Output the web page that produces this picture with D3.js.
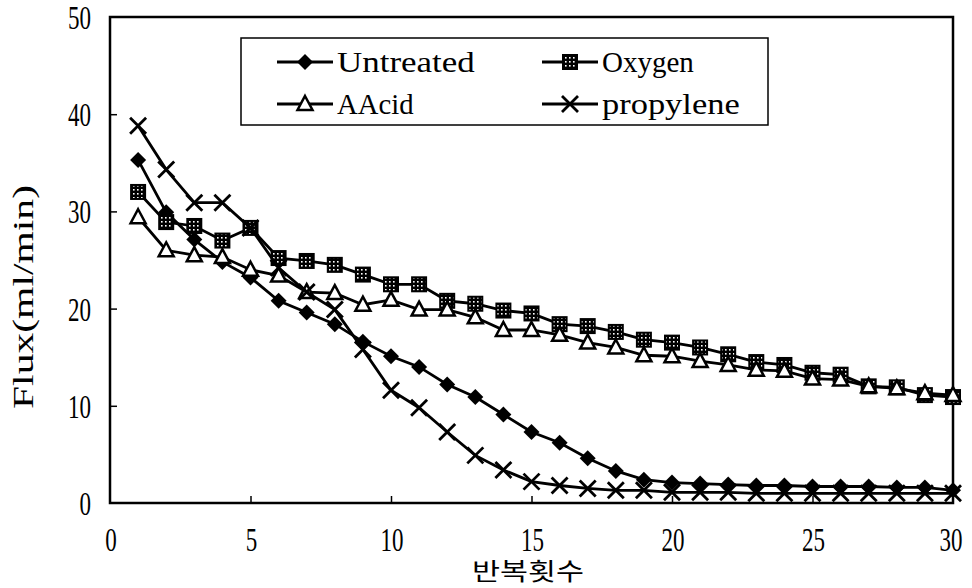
<!DOCTYPE html>
<html>
<head>
<meta charset="utf-8">
<script src="https://cdn.jsdelivr.net/npm/d3@7"></script>
<style>
  body { margin: 0; background: #fff; }
  svg { display: block; }
</style>
</head>
<body>
<div id="chart"></div>
<script>
// cycle numbers (반복횟수)
const cycles = [1, 2, 3, 4, 5, 6, 7, 8, 9, 10, 11, 12, 13, 14, 15,
                16, 17, 18, 19, 20, 21, 22, 23, 24, 25, 26, 27, 28, 29, 30];

const untreated = [35.3, 29.9, 27.1, 24.8, 23.2, 20.8, 19.6, 18.4, 16.6, 15.1, 14.0, 12.2, 10.9, 9.1, 7.3,
                   6.2, 4.6, 3.3, 2.4, 2.1, 2.0, 1.9, 1.8, 1.8, 1.7, 1.7, 1.7, 1.6, 1.6, 1.3];
const oxygen = [32.0, 28.9, 28.5, 27.0, 28.3, 25.2, 24.9, 24.5, 23.5, 22.5, 22.5, 20.8, 20.5, 19.8, 19.5,
                18.4, 18.2, 17.6, 16.8, 16.5, 16.0, 15.3, 14.5, 14.2, 13.4, 13.2, 12.0, 11.9, 11.1, 10.9];
const aacid = [29.4, 26.0, 25.5, 25.3, 24.0, 23.4, 21.7, 21.6, 20.4, 20.9, 19.9, 19.9, 19.1, 17.8, 17.8,
               17.3, 16.5, 16.0, 15.2, 15.1, 14.6, 14.2, 13.7, 13.6, 12.8, 12.7, 12.0, 11.8, 11.3, 11.1];
const propylene = [38.8, 34.3, 30.9, 30.9, 28.3, 24.2, 21.7, 19.9, 15.8, 11.6, 9.8, 7.3, 4.9, 3.4, 2.2,
                   1.8, 1.5, 1.3, 1.3, 1.1, 1.1, 1.1, 1.0, 1.0, 1.0, 1.0, 1.0, 1.0, 1.0, 1.0];

const seriesNames = ["Untreated", "Oxygen", "AAcid", "propylene"];
const seriesValues = [untreated, oxygen, aacid, propylene];
const seriesMarks = ["diamond", "square", "triangle", "cross"];

const xTicks = [0, 5, 10, 15, 20, 25, 30];
const yTicks = [0, 10, 20, 30, 40, 50];

const width = 972, height = 588;
const plot = { left: 110, right: 953, top: 17, bottom: 503 };
const font = "'Liberation Serif', 'DejaVu Serif', serif";

const svg = d3.select("#chart")
  .append("svg")
  .attr("width", width)
  .attr("height", height);

// speckled fill for the oxygen squares
const pat = svg.append("defs").append("pattern")
  .attr("id", "speck")
  .attr("patternUnits", "userSpaceOnUse")
  .attr("width", 4).attr("height", 4);
pat.append("rect").attr("width", 4).attr("height", 4).attr("fill", "black");
pat.append("rect").attr("x", 1).attr("y", 1).attr("width", 1.6).attr("height", 1.6).attr("fill", "white");

const x = d3.scaleLinear().domain([0, 30]).range([plot.left, plot.right]);
const y = d3.scaleLinear().domain([0, 50]).range([plot.bottom, plot.top]);

// frame
svg.append("rect")
  .attr("x", plot.left).attr("y", plot.top)
  .attr("width", plot.right - plot.left).attr("height", plot.bottom - plot.top)
  .attr("fill", "none")
  .attr("stroke", "black")
  .attr("stroke-width", 2.5);

// inward ticks
svg.append("g")
  .attr("transform", `translate(0,${plot.bottom})`)
  .call(d3.axisTop(x).tickValues(xTicks.slice(1, -1)).tickSize(7).tickFormat(""))
  .call(g => g.select(".domain").remove())
  .selectAll("line").attr("stroke-width", 1.5);

svg.append("g")
  .attr("transform", `translate(${plot.left},0)`)
  .call(d3.axisRight(y).tickValues(yTicks.slice(1, -1)).tickSize(7).tickFormat(""))
  .call(g => g.select(".domain").remove())
  .selectAll("line").attr("stroke-width", 1.5);

// tick labels
svg.selectAll(".xl")
  .data(xTicks)
  .enter()
  .append("text")
  .attr("x", d => x(d) + (d === 30 ? -2 : 1))
  .attr("y", 551)
  .attr("text-anchor", "middle")
  .attr("font-family", font)
  .attr("font-size", 34)
  .attr("textLength", d => String(d).length * 11.5)
  .attr("lengthAdjust", "spacingAndGlyphs")
  .text(d => d);

svg.selectAll(".yl")
  .data(yTicks)
  .enter()
  .append("text")
  .attr("x", 91)
  .attr("y", d => y(d) + 12)
  .attr("text-anchor", "end")
  .attr("font-family", font)
  .attr("font-size", 34)
  .attr("textLength", d => String(d).length * 11.5)
  .attr("lengthAdjust", "spacingAndGlyphs")
  .text(d => d);

// axis titles
svg.append("text")
  .attr("transform", "translate(33,297) rotate(-90)")
  .attr("text-anchor", "middle")
  .attr("font-family", font)
  .attr("font-size", 30)
  .attr("textLength", 224)
  .attr("lengthAdjust", "spacingAndGlyphs")
  .text("Flux(ml/min)");

svg.append("text")
  .attr("x", 528)
  .attr("y", 580)
  .attr("text-anchor", "middle")
  .attr("font-family", "'Noto Sans CJK KR', sans-serif")
  .attr("font-size", 24)
  .attr("textLength", 112)
  .attr("lengthAdjust", "spacingAndGlyphs")
  .text("반복횟수");

// marker drawing
function drawMark(g, type, cx, cy) {
  if (type === "diamond") {
    g.append("path")
      .attr("d", `M${cx},${cy - 8}L${cx + 8},${cy}L${cx},${cy + 8}L${cx - 8},${cy}Z`)
      .attr("fill", "black");
  } else if (type === "square") {
    g.append("rect")
      .attr("x", cx - 7).attr("y", cy - 7)
      .attr("width", 14).attr("height", 14)
      .attr("fill", "url(#speck)")
      .attr("stroke", "black").attr("stroke-width", 2);
  } else if (type === "triangle") {
    g.append("path")
      .attr("d", `M${cx},${cy - 8}L${cx + 7.5},${cy + 6}L${cx - 7.5},${cy + 6}Z`)
      .attr("fill", "white")
      .attr("stroke", "black").attr("stroke-width", 2.5)
      .attr("stroke-linejoin", "miter");
  } else {
    g.append("path")
      .attr("d", `M${cx - 8},${cy - 8}L${cx + 8},${cy + 8}M${cx - 8},${cy + 8}L${cx + 8},${cy - 8}`)
      .attr("stroke", "black").attr("stroke-width", 2.8);
  }
}

const line = d3.line()
  .x((d, i) => x(cycles[i]))
  .y(d => y(d));

seriesValues.forEach((vals, k) => {
  const g = svg.append("g");
  g.append("path")
    .attr("d", line(vals))
    .attr("fill", "none")
    .attr("stroke", "black")
    .attr("stroke-width", 2.8);
  vals.forEach((v, i) => drawMark(g, seriesMarks[k], x(cycles[i]), y(v)));
});

// legend
const legend = svg.append("g");
legend.append("rect")
  .attr("x", 241).attr("y", 38)
  .attr("width", 527).attr("height", 87)
  .attr("fill", "white")
  .attr("stroke", "black")
  .attr("stroke-width", 1.5);

const legendPos = [[277, 62], [542, 62], [277, 104], [542, 104]];
seriesNames.forEach((name, k) => {
  const [lx, ly] = legendPos[k];
  legend.append("line")
    .attr("x1", lx).attr("x2", lx + 56)
    .attr("y1", ly).attr("y2", ly)
    .attr("stroke", "black").attr("stroke-width", 2.8);
  drawMark(legend, seriesMarks[k], lx + 28, ly);
  legend.append("text")
    .attr("x", lx + 60)
    .attr("y", ly + 10)
    .attr("font-family", font)
    .attr("font-size", 30)
    .attr("textLength", name.length * 15.3)
    .attr("lengthAdjust", "spacingAndGlyphs")
    .text(name);
});
</script>
</body>
</html>
